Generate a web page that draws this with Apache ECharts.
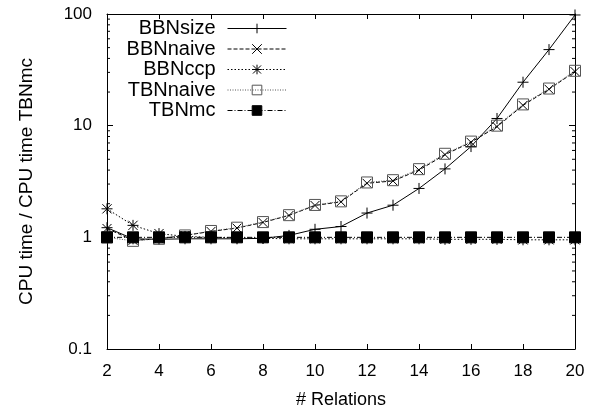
<!DOCTYPE html>
<html>
<head>
<meta charset="utf-8">
<script src="https://cdn.jsdelivr.net/npm/echarts@6/dist/echarts.min.js"></script>
<style>
  html, body { margin: 0; padding: 0; background: #fff; }
  #chart { width: 602px; height: 410px; }
</style>
</head>
<body>
<div id="chart"></div>
<script>
// Number of relations in the query graph
const relations = [2, 3, 4, 5, 6, 7, 8, 9, 10, 11, 12, 13, 14, 15, 16, 17, 18, 19, 20];

// CPU time of each enumerator, normalised by the CPU time of TBNmc
const bbnSize  = [1.22, 0.97, 0.96, 0.97, 0.97, 0.97, 0.98, 1.04, 1.18, 1.25, 1.65, 1.94, 2.74, 4.1, 6.5, 11.6, 24.5, 48, 98];
const bbnNaive = [1.2, 0.94, 0.97, 1.04, 1.13, 1.21, 1.36, 1.57, 1.93, 2.08, 3.05, 3.2, 4.0, 5.5, 7.1, 9.8, 15.2, 21.2, 30.5];
const bbnCcp   = [1.8, 1.28, 1.08, 1.02, 1.0, 0.99, 0.98, 0.97, 0.97, 0.97, 0.97, 0.97, 0.97, 0.96, 0.96, 0.96, 0.95, 0.95, 0.95];
const tbnNaive = [1.0, 0.93, 0.97, 1.04, 1.14, 1.22, 1.37, 1.58, 1.95, 2.1, 3.1, 3.25, 4.08, 5.6, 7.2, 10.0, 15.5, 21.5, 31];
const tbnMc    = [1, 1, 1, 1, 1, 1, 1, 1, 1, 1, 1, 1, 1, 1, 1, 1, 1, 1, 1];

// Axis tick labels
const xTickLabels = ['2', '4', '6', '8', '10', '12', '14', '16', '18', '20'];
const yTickLabels = ['0.1', '1', '10', '100'];
// Minor ticks of the logarithmic axis (2..9 within each decade)
const yMinorTicks = [0.2, 0.3, 0.4, 0.5, 0.6, 0.7, 0.8, 0.9, 2, 3, 4, 5, 6, 7, 8, 9, 20, 30, 40, 50, 60, 70, 80, 90];

const FONT = 'Liberation Sans, Arial, Helvetica, sans-serif';

const SYM_PLUS  = 'path://M0,5L10,5M5,0L5,10';
const SYM_CROSS = 'path://M0,0L10,10M10,0L0,10';
const SYM_STAR  = 'path://M0,5L10,5M5,0L5,10M0.8,0.8L9.2,9.2M9.2,0.8L0.8,9.2';

function pairs(ys) { return relations.map((x, i) => [x, ys[i]]); }

const seriesDefs = [
  { name: 'BBNsize',  data: bbnSize,  symbol: SYM_PLUS,  size: 11, dash: 'solid',    stroke: '#000', fill: 'transparent' },
  { name: 'BBNnaive', data: bbnNaive, symbol: SYM_CROSS, size: 9,  dash: [4, 2],     stroke: '#000', fill: 'transparent' },
  { name: 'BBNccp',   data: bbnCcp,   symbol: SYM_STAR,  size: 11, dash: [1.5, 2],   stroke: '#000', fill: 'transparent' },
  { name: 'TBNnaive', data: tbnNaive, symbol: 'rect',    size: 11, dash: [1, 1.5],   stroke: '#555', fill: 'transparent' },
  { name: 'TBNmc',    data: tbnMc,    symbol: 'rect',    size: 11, dash: [5, 2, 1, 2], stroke: '#000', fill: '#000' }
];

const series = seriesDefs.map(d => ({
  type: 'line',
  name: d.name,
  data: pairs(d.data),
  xAxisIndex: 0,
  yAxisIndex: 0,
  symbol: d.symbol,
  symbolSize: d.size,
  showAllSymbol: true,
  animation: false,
  lineStyle: { color: d.stroke, width: 1, type: d.dash },
  itemStyle: { color: d.fill, borderColor: d.stroke, borderWidth: 1 },
  emphasis: { disabled: true }
}));

// Minor tick marks on the left and right frame edges
series.push({
  type: 'custom',
  name: 'minorTicks',
  silent: true,
  animation: false,
  xAxisIndex: 0,
  yAxisIndex: 0,
  data: yMinorTicks.map(v => [2, v]),
  renderItem: function (params, api) {
    const v = api.value(1);
    const l = api.coord([2, v]);
    const r = api.coord([20, v]);
    const st = { stroke: '#000', lineWidth: 1 };
    return {
      type: 'group',
      children: [
        { type: 'line', shape: { x1: l[0], y1: l[1], x2: l[0] + 3, y2: l[1] }, style: st },
        { type: 'line', shape: { x1: r[0] - 3, y1: r[1], x2: r[0], y2: r[1] }, style: st }
      ]
    };
  },
  z: 5
});

// One legend block per entry, right-aligned so the samples line up
const legends = seriesDefs.map((d, i) => ({
  data: [d.name],
  right: 315,
  top: 18.5 + i * 20.5,
  align: 'right',
  orient: 'vertical',
  itemWidth: 59,
  itemHeight: 12,
  selectedMode: false,
  padding: 0,
  lineStyle: { width: 1 },
  itemStyle: { borderWidth: 1 },
  textStyle: { fontFamily: FONT, fontSize: 20, color: '#000', padding: [0, 7, 0, 0] }
}));

const axisLineStyle = { show: true, lineStyle: { color: '#000', width: 1 } };

const option = {
  backgroundColor: '#fff',
  animation: false,
  grid: { left: 107, right: 27, top: 14, bottom: 61, containLabel: false, outerBoundsMode: 'none' },
  legend: legends,
  xAxis: [
    {
      type: 'value', position: 'bottom', min: 2, max: 20, interval: 2,
      name: '# Relations', nameLocation: 'middle', nameGap: 42,
      nameTextStyle: { fontFamily: FONT, fontSize: 18, color: '#000' },
      axisLine: axisLineStyle,
      axisTick: { show: true, inside: true, length: 5, lineStyle: { color: '#000' } },
      axisLabel: {
        fontFamily: FONT, fontSize: 17, color: '#000', margin: 14,
        formatter: v => xTickLabels[(v - 2) / 2]
      },
      splitLine: { show: false }
    },
    {
      type: 'value', position: 'top', min: 2, max: 20, interval: 2,
      axisLine: axisLineStyle,
      axisTick: { show: true, inside: true, length: 5, lineStyle: { color: '#000' } },
      axisLabel: { show: false },
      splitLine: { show: false }
    }
  ],
  yAxis: [
    {
      type: 'log', logBase: 10, min: 0.1, max: 100, position: 'left',
      name: 'CPU time / CPU time TBNmc', nameLocation: 'middle', nameGap: 71,
      nameTextStyle: { fontFamily: FONT, fontSize: 19, color: '#000' },
      axisLine: axisLineStyle,
      axisTick: { show: true, inside: true, length: 6, lineStyle: { color: '#000' } },
      axisLabel: {
        fontFamily: FONT, fontSize: 17, color: '#000', margin: 15,
        formatter: v => yTickLabels[Math.round(Math.log10(v)) + 1]
      },
      splitLine: { show: false }
    },
    {
      type: 'log', logBase: 10, min: 0.1, max: 100, position: 'right',
      axisLine: axisLineStyle,
      axisTick: { show: true, inside: true, length: 6, lineStyle: { color: '#000' } },
      axisLabel: { show: false },
      splitLine: { show: false }
    }
  ],
  series: series
};

const chart = echarts.init(document.getElementById('chart'), null, { renderer: 'canvas' });
chart.setOption(option);
</script>
</body>
</html>
